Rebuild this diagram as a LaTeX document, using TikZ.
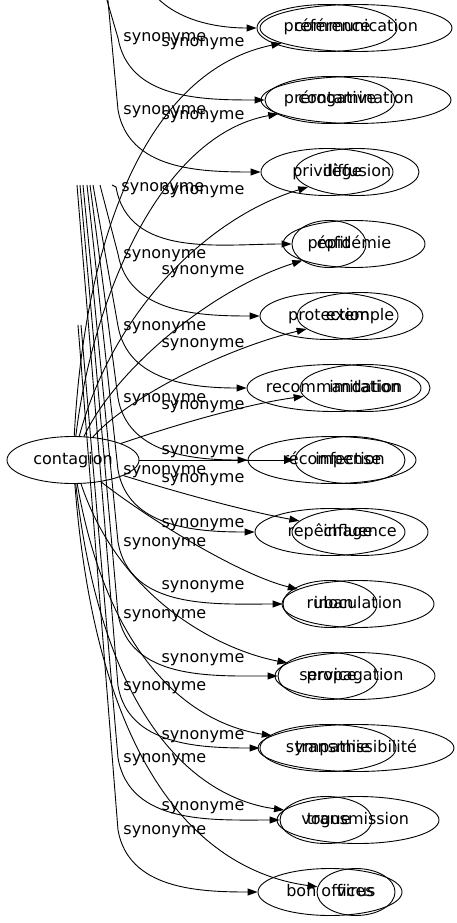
\documentclass[tikz,border=0pt]{standalone}
\usepackage{fontspec}
\setmainfont{DejaVu Sans}
\usetikzlibrary{shapes.geometric,arrows.meta}

\tikzset{
  ell/.style={draw, ellipse, inner xsep=-40pt, inner ysep=0pt, minimum height=47pt, minimum width=#1,
    text height=12pt, text depth=4pt},
  lbl/.style={inner sep=1pt, text height=12pt, text depth=4pt},
}

\begin{document}
\begin{tikzpicture}[x=1pt, y=-1pt, line width=0.9pt, >={Triangle[length=10pt,width=7pt]},
    font=\fontsize{16}{19}\selectfont]
	\useasboundingbox (0,0) rectangle (456,923);
	\clip (0,0) rectangle (456,923);

	% source of the second graph
	\node[ell=132pt] (contagion) at (73,460) {contagion};

	% synonyms, first graph
	\node[ell=140pt] (A1) at (327,28) {préférence};
	\node[ell=130pt] (A2) at (330,100) {prérogative};
	\node[ell=132pt] (A3) at (327,172) {privilège};
	\node[ell=74pt] (A4) at (329,244) {profit};
	\node[ell=138pt] (A5) at (329,316) {protection};
	\node[ell=174pt] (A6) at (334,388) {recommandation};
	\node[ell=168pt] (A7) at (332,460) {récompense};
	\node[ell=150pt] (A8) at (330,532) {repêchage};
	\node[ell=94pt] (A9) at (330,604) {ruban};
	\node[ell=100pt] (A10) at (328,676) {service};
	\node[ell=136pt] (A11) at (328,748) {sympathie};
	\node[ell=92pt] (A12) at (326,820) {vogue};
	\node[ell=144pt] (A13) at (330,892) {bon offices};

	% synonyms, second graph
	\node[ell=192pt] (B1) at (356,28) {communication};
	\node[ell=190pt] (B2) at (356,100) {contamination};
	\node[ell=124pt] (B3) at (357,172) {diffusion};
	\node[ell=142pt] (B4) at (354,244) {épidémie};
	\node[ell=126pt] (B5) at (360,316) {exemple};
	\node[ell=130pt] (B6) at (365,388) {imitation};
	\node[ell=110pt] (B7) at (350,460) {infection};
	\node[ell=136pt] (B8) at (360,532) {influence};
	\node[ell=152pt] (B9) at (358,604) {inoculation};
	\node[ell=160pt] (B10) at (355,676) {propagation};
	\node[ell=196pt] (B11) at (356,748) {transmissibilité};
	\node[ell=162pt] (B12) at (358,820) {transmission};
	\node[ell=78pt] (B13) at (356,892) {virus};

	% loose ends and bends of the first graph
	\coordinate (fA1) at (125,-140);	\coordinate (kA1) at (138,-40);
	\coordinate (fA2) at (104,-10);	\coordinate (kA2) at (118,38);
	\coordinate (fA3) at (107,-10);	\coordinate (kA3) at (118,110);
	\coordinate (fA4) at (112,185);	\coordinate (kA4) at (116,187);
	\coordinate (fA5) at (100,185);	\coordinate (kA5) at (118,254);
	\coordinate (fA6) at (93,185);	\coordinate (kA6) at (118,326);
	\coordinate (fA7) at (90,185);	\coordinate (kA7) at (118,398);
	\coordinate (fA8) at (87,185);	\coordinate (kA8) at (118,470);
	\coordinate (fA9) at (83,185);	\coordinate (kA9) at (118,542);
	\coordinate (fA10) at (80,185);	\coordinate (kA10) at (118,614);
	\coordinate (fA11) at (77,185);	\coordinate (kA11) at (118,686);
	\coordinate (fA12) at (81,325);	\coordinate (kA12) at (118,758);
	\coordinate (fA13) at (78,325);	\coordinate (kA13) at (118,830);

	\draw[->] (fA1) -- (kA1) to[out=-80,in=180] node[lbl,pos=0,right,xshift=4pt] {synonyme} (A1);
	\draw[->] (fA2) -- (kA2) to[out=-80,in=180] node[lbl,pos=0,right,xshift=4pt] {synonyme} (A2);
	\draw[->] (fA3) -- (kA3) to[out=-80,in=180] node[lbl,pos=0,right,xshift=4pt] {synonyme} (A3);
	\draw[->] (fA4) -- (kA4) to[out=-80,in=180] node[lbl,pos=0,right,xshift=4pt] {synonyme} (A4);
	\draw[->] (fA5) -- (kA5) to[out=-80,in=180] node[lbl,pos=0,right,xshift=4pt] {synonyme} (A5);
	\draw[->] (fA6) -- (kA6) to[out=-80,in=180] node[lbl,pos=0,right,xshift=4pt] {synonyme} (A6);
	\draw[->] (fA7) -- (kA7) to[out=-80,in=180] node[lbl,pos=0,right,xshift=4pt] {synonyme} (A7);
	\draw[->] (fA8) -- (kA8) to[out=-80,in=180] node[lbl,pos=0,right,xshift=4pt] {synonyme} (A8);
	\draw[->] (fA9) -- (kA9) to[out=-80,in=180] node[lbl,pos=0,right,xshift=4pt] {synonyme} (A9);
	\draw[->] (fA10) -- (kA10) to[out=-80,in=180] node[lbl,pos=0,right,xshift=4pt] {synonyme} (A10);
	\draw[->] (fA11) -- (kA11) to[out=-80,in=180] node[lbl,pos=0,right,xshift=4pt] {synonyme} (A11);
	\draw[->] (fA12) -- (kA12) to[out=-80,in=180] node[lbl,pos=0,right,xshift=4pt] {synonyme} (A12);
	\draw[->] (fA13) -- (kA13) to[out=-80,in=180] node[lbl,pos=0,right,xshift=4pt] {synonyme} (A13);

	% edges of contagion
	\draw[->] (contagion) .. controls (85,230) and (150,70) .. (B1) node[lbl] at (203,43) {synonyme};
	\draw[->] (contagion) .. controls (92,300) and (160,135) .. (B2) node[lbl] at (203,116) {synonyme};
	\draw[->] (contagion) .. controls (110,320) and (200,220) .. (B3) node[lbl] at (203,190) {synonyme};
	\draw[->] (contagion) .. controls (115,370) and (210,290) .. (B4) node[lbl] at (203,270) {synonyme};
	\draw[->] (contagion) .. controls (125,400) and (220,350) .. (B5) node[lbl] at (203,343) {synonyme};
	\draw[->] (contagion) .. controls (160,430) and (240,405) .. (B6) node[lbl] at (203,405) {synonyme};
	\draw[->] (contagion) -- (B7) node[lbl] at (203,450) {synonyme};
	\draw[->] (contagion) .. controls (170,490) and (240,510) .. (B8) node[lbl] at (203,478) {synonyme};
	\draw[->] (contagion) .. controls (150,520) and (240,575) .. (B9) node[lbl] at (203,523) {synonyme};
	\draw[->] (contagion) .. controls (120,600) and (220,650) .. (B10) node[lbl] at (203,585) {synonyme};
	\draw[->] (contagion) .. controls (110,670) and (200,725) .. (B11) node[lbl] at (203,658) {synonyme};
	\draw[->] (contagion) .. controls (105,740) and (210,800) .. (B12) node[lbl] at (203,735) {synonyme};
	\draw[->] (contagion) .. controls (100,810) and (230,875) .. (B13) node[lbl] at (203,806) {synonyme};
\end{tikzpicture}
\end{document}
